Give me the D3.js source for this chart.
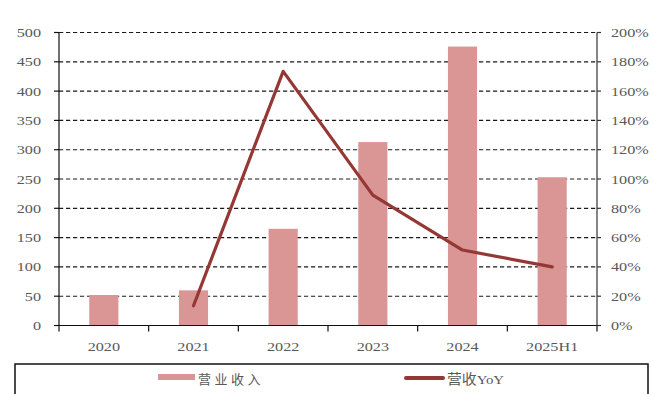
<!DOCTYPE html>
<html>
<head>
<meta charset="utf-8">
<script src="https://cdn.jsdelivr.net/npm/d3@7"></script>
<style>
  html, body { margin: 0; padding: 0; background: #fff; }
  svg { display: block; }
</style>
</head>
<body>
<svg id="chart" width="653" height="394"></svg>
<script>
// Categories and series
const categories = ["2020", "2021", "2022", "2023", "2024", "2025H1"];
const revenue = [52, 60, 165, 313, 476, 253];          // 营业收入
const revenueYoY = [null, 13.5, 173.5, 89, 51.5, 40];  // 营收YoY, %
const leftTicks = [0, 50, 100, 150, 200, 250, 300, 350, 400, 450, 500];
const rightTicks = [0, 20, 40, 60, 80, 100, 120, 140, 160, 180, 200];
const legendLabels = ["营业收入", "营收YoY"];

const barColor = "#D99694";
const lineColor = "#953735";
const textColor = "#595959";
const serif = "'Liberation Serif', 'Times New Roman', serif";
const mixed = "'Liberation Serif', 'Noto Sans CJK SC', serif";
const stretch = 1.2;

const svg = d3.select("#chart");
const plot = { left: 59, right: 597, top: 32.5, bottom: 325.5 };

const x = d3.scaleBand().domain(categories).range([plot.left, plot.right]).padding(0);
const yL = d3.scaleLinear().domain([0, 500]).range([plot.bottom, plot.top]);
const yR = d3.scaleLinear().domain([0, 200]).range([plot.bottom, plot.top]);

// Dashed gridlines
svg.append("g").selectAll("line")
  .data(leftTicks.filter(d => d > 0))
  .join("line")
  .attr("x1", plot.left).attr("x2", plot.right)
  .attr("y1", d => yL(d)).attr("y2", d => yL(d))
  .attr("stroke", "#1a1a1a").attr("stroke-width", 1.15)
  .attr("stroke-dasharray", "4.2,2.8");

// Bars
const barW = x.bandwidth() * 0.325;
svg.append("g").selectAll("rect")
  .data(categories)
  .join("rect")
  .attr("x", (c) => x(c) + x.bandwidth() / 2 - barW / 2)
  .attr("y", (c, i) => yL(revenue[i]))
  .attr("width", barW)
  .attr("height", (c, i) => yL(0) - yL(revenue[i]))
  .attr("fill", barColor);

// Axes lines
const axisG = svg.append("g").attr("stroke", "#111").attr("stroke-width", 1.2);
axisG.append("line").attr("x1", plot.left).attr("x2", plot.left).attr("y1", plot.top).attr("y2", plot.bottom);
axisG.append("line").attr("x1", plot.right).attr("x2", plot.right).attr("y1", plot.top).attr("y2", plot.bottom).attr("stroke", "#333");
axisG.append("line").attr("x1", plot.left).attr("x2", plot.right).attr("y1", plot.bottom).attr("y2", plot.bottom);

// Axis tick marks
axisG.selectAll(".lt").data(leftTicks).join("line")
  .attr("x1", plot.left - 5).attr("x2", plot.left)
  .attr("y1", d => yL(d)).attr("y2", d => yL(d));
axisG.selectAll(".rt").data(rightTicks).join("line")
  .attr("x1", plot.right).attr("x2", plot.right + 4)
  .attr("y1", d => yR(d)).attr("y2", d => yR(d)).attr("stroke", "#333");
const bounds = categories.map(c => x(c)).concat([x.range()[1]]);
axisG.selectAll(".bt").data(bounds).join("line")
  .attr("x1", d => d).attr("x2", d => d)
  .attr("y1", plot.bottom).attr("y2", plot.bottom + 6);

// Tick labels (serif, slightly widened)
function label(g, tx, ty, text, anchor) {
  g.append("text")
    .attr("transform", `translate(${tx},${ty}) scale(${stretch},1)`)
    .attr("text-anchor", anchor)
    .attr("dominant-baseline", "central")
    .attr("font-family", serif)
    .attr("font-size", 13.5)
    .attr("fill", textColor)
    .text(text);
}
const labels = svg.append("g");
leftTicks.forEach(d => label(labels, 41, yL(d), d3.format("d")(d), "end"));
rightTicks.forEach(d => label(labels, 611, yR(d), d + "%", "start"));
categories.forEach(c => label(labels, x(c) + x.bandwidth() / 2, 346.5, c, "middle"));

// YoY line
const line = d3.line()
  .defined(d => d.v != null)
  .x(d => x(d.c) + x.bandwidth() / 2)
  .y(d => yR(d.v));
svg.append("path")
  .datum(categories.map((c, i) => ({ c, v: revenueYoY[i] })))
  .attr("d", line)
  .attr("fill", "none")
  .attr("stroke", lineColor)
  .attr("stroke-width", 3.2)
  .attr("stroke-linejoin", "round")
  .attr("stroke-linecap", "round");

// Legend
const leg = svg.append("g");
leg.append("rect")
  .attr("x", 15).attr("y", 364).attr("width", 633).attr("height", 40)
  .attr("fill", "none").attr("stroke", "#111").attr("stroke-width", 1.5);
leg.append("rect")
  .attr("x", 158).attr("y", 374).attr("width", 37).attr("height", 6)
  .attr("fill", barColor);
leg.append("line")
  .attr("x1", 406).attr("x2", 443).attr("y1", 378).attr("y2", 378)
  .attr("stroke", lineColor).attr("stroke-width", 4).attr("stroke-linecap", "round");
leg.append("text")
  .attr("x", 198).attr("y", 379)
  .attr("dominant-baseline", "central")
  .attr("font-family", mixed).attr("font-size", 13)
  .attr("letter-spacing", 3.5)
  .attr("fill", textColor)
  .text(legendLabels[0]);
leg.append("text")
  .attr("transform", "translate(447,379) scale(1.1,1)")
  .attr("dominant-baseline", "central")
  .attr("font-family", mixed).attr("font-size", 13.5)
  .attr("fill", textColor)
  .text(legendLabels[1]);
</script>
</body>
</html>
